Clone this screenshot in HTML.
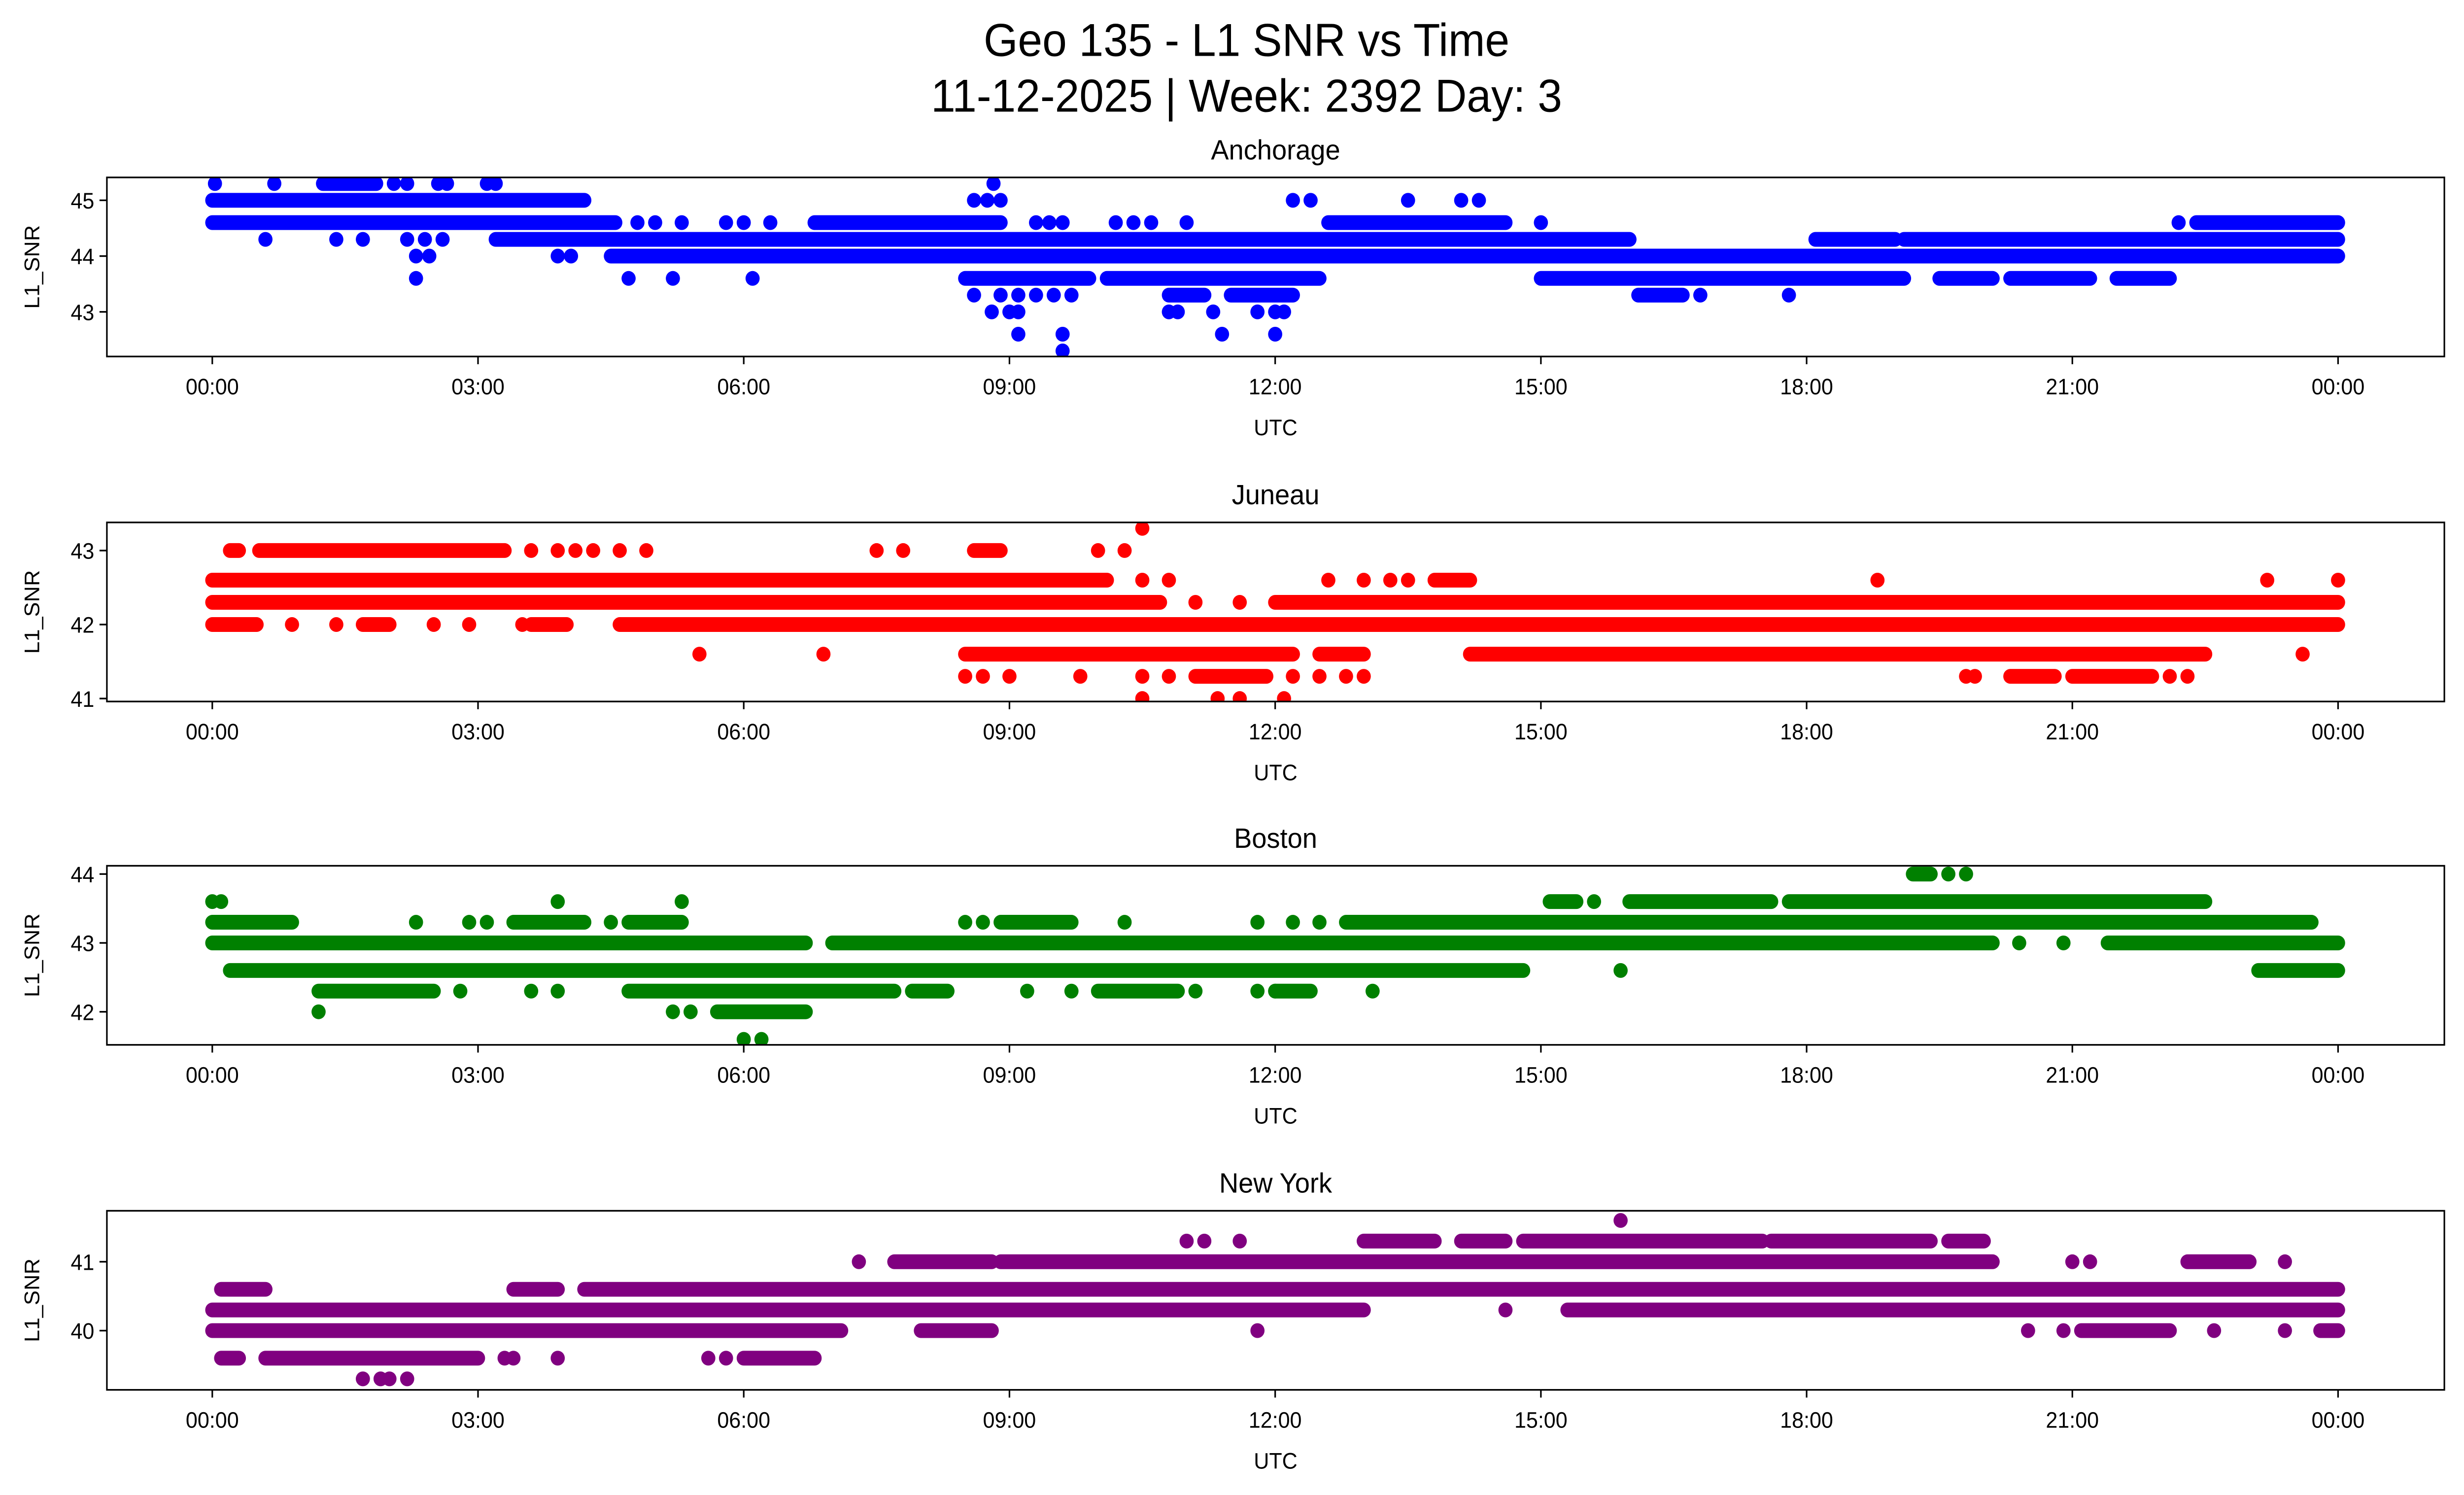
<!DOCTYPE html>
<html><head><meta charset="utf-8"><style>
html,body{margin:0;padding:0;background:#fff;overflow:hidden;width:100%;height:100%;}
svg{display:block;width:100vw;height:100vh;font-family:"Liberation Sans","DejaVu Sans",sans-serif;}
</style></head><body>
<svg id="fig" xmlns="http://www.w3.org/2000/svg" viewBox="0 0 1567.5 910" preserveAspectRatio="none">
<rect x="0" y="0" width="1567.5" height="910" fill="#fff"/>
<text x="793" y="34" font-size="28" text-anchor="middle">Geo 135 - L1 SNR vs Time</text>
<text x="793" y="68" font-size="28" text-anchor="middle">11-12-2025 | Week: 2392 Day: 3</text>
<g id="plots"></g>
</svg>
<script>
const panelTitles = ["Anchorage","Juneau","Boston","New York"];
const panelColors = ["#0000ff","#ff0000","#008000","#800080"];
const yTicks = [[43,44,45],[41,42,43],[42,43,44],[40,41]];
const yLims = [[42.2,45.41],[40.96,43.38],[41.52,44.12],[39.14,41.74]];
const xTickHours = [0,3,6,9,12,15,18,21,24];
const xTickLabels = ["00:00","03:00","06:00","09:00","12:00","15:00","18:00","21:00","00:00"];

const anchorageRuns = [[45,0,4.2],[44.6,0,4.55],[44.6,6.8,8.9],[44.6,12.6,14.6],[44.6,22.4,24],[44.3,3.2,16.0],[44.3,18.1,19.0],[44.3,19.1,24],[44,4.5,24],[43.6,8.5,9.9],[43.6,10.1,12.5],[43.6,15.0,19.1],[43.6,19.5,20.1],[43.6,20.3,21.2],[43.6,21.5,22.1],[45.3,1.25,1.85],[43.3,10.8,11.2],[43.3,11.5,12.2],[43.3,16.1,16.6]];
const anchoragePoints = [[45.3,0.03],[45.3,0.7],[45.3,2.05],[45.3,2.2],[45.3,2.55],[45.3,2.65],[45.3,3.1],[45.3,3.2],[45.3,8.82],[45,8.6],[45,8.75],[45,8.9],[45,12.2],[45,12.4],[45,13.5],[45,14.1],[45,14.3],[44.6,4.8],[44.6,5.0],[44.6,5.3],[44.6,5.8],[44.6,6.0],[44.6,6.3],[44.6,9.3],[44.6,9.45],[44.6,9.6],[44.6,10.2],[44.6,10.4],[44.6,10.6],[44.6,11.0],[44.6,15.0],[44.6,22.2],[44.3,0.6],[44.3,1.4],[44.3,1.7],[44.3,2.2],[44.3,2.4],[44.3,2.6],[44,2.3],[44,2.45],[44,3.9],[44,4.05],[43.6,2.3],[43.6,4.7],[43.6,5.2],[43.6,6.1],[43.3,8.6],[43.3,8.9],[43.3,9.1],[43.3,9.3],[43.3,9.5],[43.3,9.7],[43.3,16.8],[43.3,17.8],[43,8.8],[43,9.0],[43,9.1],[43,10.8],[43,10.9],[43,11.3],[43,11.8],[43,12.0],[43,12.1],[42.6,9.1],[42.6,9.6],[42.6,11.4],[42.6,12.0],[42.3,9.6]];

const juneauRuns = [[43,0.2,0.3],[43,0.53,3.3],[42.6,0,10.1],[42.3,0,10.7],[42.3,12.0,24],[42,0,0.5],[42,1.7,2.0],[42,3.6,4.0],[42,4.6,24],[41.6,8.5,12.2],[41.6,12.5,13.0],[41.6,14.2,22.5],[41.3,11.1,11.9],[41.3,20.3,20.8],[41.3,21.0,21.9],[43,8.6,8.9],[42.6,13.8,14.2]];
const juneauPoints = [[43.3,10.5],[43,3.6],[43,3.9],[43,4.1],[43,4.3],[43,4.6],[43,4.9],[43,7.5],[43,7.8],[43,10.0],[43,10.3],[42.6,10.5],[42.6,10.8],[42.6,12.6],[42.6,13.0],[42.6,13.3],[42.6,13.5],[42.6,18.8],[42.6,23.2],[42.6,24],[42.3,11.1],[42.3,11.6],[42,0.9],[42,1.4],[42,2.5],[42,2.9],[42,3.5],[41.6,5.5],[41.6,6.9],[41.6,23.6],[41.3,8.5],[41.3,8.7],[41.3,9.0],[41.3,9.8],[41.3,10.5],[41.3,10.8],[41.3,12.2],[41.3,12.5],[41.3,12.8],[41.3,13.0],[41.3,19.8],[41.3,19.9],[41.3,22.1],[41.3,22.3],[41,10.5],[41,11.35],[41,11.6],[41,12.1]];

const bostonRuns = [[43.6,16.0,17.6],[43.6,17.8,22.5],[43.3,0,0.9],[43.3,3.4,4.2],[43.3,4.7,5.3],[43.3,8.9,9.7],[43.3,12.8,23.7],[43,0,6.7],[43,7.0,20.1],[43,21.4,24],[42.6,0.2,14.8],[42.6,23.1,24],[42.3,1.2,2.5],[42.3,4.7,7.7],[42.3,7.9,8.3],[42.3,10.0,10.9],[42.3,12.0,12.4],[42,5.7,6.7],[44,19.2,19.4],[43.6,15.1,15.4]];
const bostonPoints = [[44,19.6],[44,19.8],[43.6,0.0],[43.6,0.1],[43.6,3.9],[43.6,5.3],[43.6,15.6],[43.3,2.3],[43.3,2.9],[43.3,3.1],[43.3,4.5],[43.3,8.5],[43.3,8.7],[43.3,10.3],[43.3,11.8],[43.3,12.2],[43.3,12.5],[43,20.4],[43,20.9],[42.6,15.9],[42.3,2.8],[42.3,3.6],[42.3,3.9],[42.3,9.2],[42.3,9.7],[42.3,11.1],[42.3,11.8],[42.3,12.0],[42.3,13.1],[42,1.2],[42,5.2],[42,5.4],[41.6,6.0],[41.6,6.2]];

const newYorkRuns = [[41.3,13.0,13.8],[41.3,14.1,14.6],[41.3,14.8,17.5],[41.3,17.6,19.4],[41.3,19.6,20.0],[41,7.7,8.8],[41,8.9,20.1],[41,22.3,23.0],[40.6,0.1,0.6],[40.6,3.4,3.9],[40.6,4.2,24],[40.3,0,13.0],[40.3,15.3,24],[40,0,7.1],[40,8.0,8.8],[40,21.1,22.1],[40,23.8,24],[39.6,0.6,3.0],[39.6,6.0,6.8],[39.6,0.1,0.3]];
const newYorkPoints = [[41.6,15.9],[41.3,11.0],[41.3,11.2],[41.3,11.6],[41,7.3],[41,21.0],[41,21.2],[41,23.4],[40.3,14.6],[40,11.8],[40,20.5],[40,20.9],[40,22.6],[40,23.4],[39.6,3.3],[39.6,3.4],[39.6,3.9],[39.6,5.6],[39.6,5.8],[39.3,1.7],[39.3,1.9],[39.3,2.0],[39.3,2.2]];

const allRuns = [anchorageRuns, juneauRuns, bostonRuns, newYorkRuns];
const allPoints = [anchoragePoints, juneauPoints, bostonPoints, newYorkPoints];

const NS = "http://www.w3.org/2000/svg";
const plots = document.getElementById("plots");
const L = 68, R = 1555, H = 109;
const tops = [108, 318, 527, 737];
const xMin = -1.19, xMax = 25.2;
function xs(h){ return L + (h - xMin) / (xMax - xMin) * (R - L); }
function mk(tag, attrs, parent){ const e = document.createElementNS(NS, tag); for (const k in attrs) e.setAttribute(k, attrs[k]); parent.appendChild(e); return e; }

for (let p = 0; p < 4; p++) {
  const top = tops[p], bot = top + H;
  const lim = yLims[p];
  const ys = v => bot - (v - lim[0]) / (lim[1] - lim[0]) * H;
  const g = mk("g", {}, plots);
  
  
  const clip = mk("clipPath", {id: "clip" + p}, g);
  mk("rect", {x: L, y: top, width: R - L, height: H}, clip);
  const t = mk("text", {x: (L + R) / 2, y: top - 11, "font-size": 17, "text-anchor": "middle"}, g);
  t.textContent = panelTitles[p];
  
  
  const marks = mk("g", {"clip-path": "url(#clip" + p + ")"}, g);
  
  
  allRuns[p].forEach(r => {
    const ln = mk("line", {x1: xs(r[1]), x2: xs(r[2]), y1: ys(r[0]), y2: ys(r[0]), stroke: panelColors[p], "stroke-width": 9, "stroke-linecap": "round"}, marks);
    
    
  });
  allPoints[p].forEach(pt => {
    const c = mk("circle", {cx: xs(pt[1]), cy: ys(pt[0]), r: 4.5, fill: panelColors[p]}, marks);
    
    
  });
  const frame = mk("rect", {x: L, y: top, width: R - L, height: H, fill: "none", stroke: "#000", "stroke-width": 1}, g);
  
  
  xTickHours.forEach((h, i) => {
    const x = xs(h);
    const tk = mk("line", {x1: x, x2: x, y1: bot, y2: bot + 4.7, stroke: "#000", "stroke-width": 1}, g);
    
    
    const lb = mk("text", {x: x, y: bot + 23, "font-size": 13.5, "text-anchor": "middle"}, g);
    lb.textContent = xTickLabels[i];
    
    
  });
  yTicks[p].forEach(v => {
    const y = ys(v);
    const tk = mk("line", {x1: L - 4.7, x2: L, y1: y, y2: y, stroke: "#000", "stroke-width": 1}, g);
    
    
    const lb = mk("text", {x: L - 8, y: y + 5, "font-size": 13.5, "text-anchor": "end"}, g);
    lb.textContent = v;
    
    
  });
  const xl = mk("text", {x: (L + R) / 2, y: bot + 48, "font-size": 13.5, "text-anchor": "middle"}, g);
  xl.textContent = "UTC";
  
  
  const cy = top + H / 2;
  const yl = mk("text", {x: 25, y: cy, "font-size": 13.5, "text-anchor": "middle", transform: "rotate(-90 25 " + cy + ")"}, g);
  yl.textContent = "L1_SNR";
  
  
}
</script>
</body></html>
